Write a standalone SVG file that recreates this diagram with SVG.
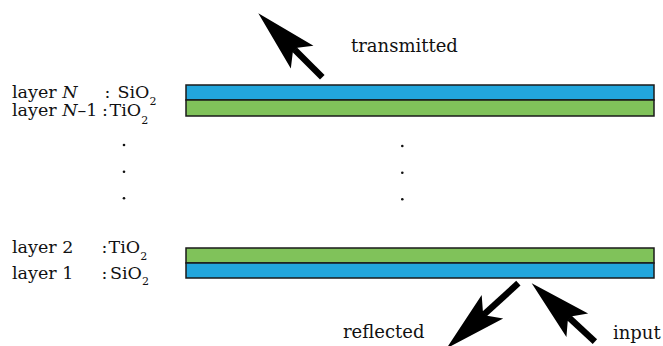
<svg xmlns="http://www.w3.org/2000/svg" width="663" height="346" viewBox="0 0 663 346">
  <style>
    text { font-family: "DejaVu Serif", "Liberation Serif", serif; font-size: 18px; fill: #111; }
    .lbl { font-size: 17.5px; }
    .sub { font-size: 11px; }
    .sio2 { fill: #22a6dc; stroke: #1a1a1a; stroke-width: 1.5; }
    .tio2 { fill: #80c25a; stroke: #1a1a1a; stroke-width: 1.5; }
    .arrow { fill: #000; }
    .dot { fill: #111; }
  </style>
  <defs>
    <!-- dart-shaped arrow pointing along +x, tip at the origin -->
    <path id="head" d="M0,0 L-62,-16 L-52,-3.2 L-52,3.2 L-62,16 Z"/>
  </defs>

  <rect width="663" height="346" fill="#fff"/>

  <!-- top of the stack -->
  <g id="layer-N">
    <rect class="sio2" x="186" y="85" width="468" height="15"/>
    <text class="lbl" x="12" y="98">layer <tspan font-style="italic">N</tspan></text>
    <text class="lbl" x="104.5" y="98">:</text>
    <text class="lbl" x="117.5" y="98">SiO<tspan class="sub" dy="6.5">2</tspan></text>
  </g>
  <g id="layer-N-1">
    <rect class="tio2" x="186" y="100" width="468" height="16"/>
    <text class="lbl" x="12" y="115.5">layer <tspan font-style="italic">N</tspan>–1</text>
    <text class="lbl" x="102" y="115.5">:</text>
    <text class="lbl" x="109.5" y="115.5">TiO<tspan class="sub" dy="8">2</tspan></text>
  </g>

  <!-- ellipsis for the intermediate layers -->
  <g id="ellipsis">
    <circle class="dot" cx="124" cy="145" r="1.3"/>
    <circle class="dot" cx="124" cy="171.7" r="1.3"/>
    <circle class="dot" cx="124" cy="198.3" r="1.3"/>
    <circle class="dot" cx="402.3" cy="146" r="1.3"/>
    <circle class="dot" cx="402.3" cy="172.7" r="1.3"/>
    <circle class="dot" cx="402.3" cy="199.3" r="1.3"/>
  </g>

  <!-- bottom of the stack -->
  <g id="layer-2">
    <rect class="tio2" x="186" y="248" width="468" height="15"/>
    <text class="lbl" x="12" y="252.5">layer 2</text>
    <text class="lbl" x="101.5" y="252.5">:</text>
    <text class="lbl" x="108.5" y="252.5">TiO<tspan class="sub" dy="7.5">2</tspan></text>
  </g>
  <g id="layer-1">
    <rect class="sio2" x="186" y="263" width="468" height="15"/>
    <text class="lbl" x="12" y="278.5">layer 1</text>
    <text class="lbl" x="101.5" y="278.5">:</text>
    <text class="lbl" x="110" y="278.5">SiO<tspan class="sub" dy="6.5">2</tspan></text>
  </g>

  <!-- beams -->
  <g id="connectors">
    <g id="transmitted" transform="translate(258.3,13.3) rotate(-135)">
      <use href="#head" class="arrow"/>
      <rect class="arrow" x="-90.5" y="-3.2" width="39" height="6.4"/>
    </g>
    <g id="input" transform="translate(531.7,283.3) rotate(-137.3)">
      <use href="#head" class="arrow"/>
      <rect class="arrow" x="-86" y="-3.2" width="34.5" height="6.4"/>
    </g>
    <g id="reflected" transform="translate(446.5,348.4) rotate(137.8)">
      <use href="#head" class="arrow"/>
      <rect class="arrow" x="-97" y="-3.2" width="45.5" height="6.4"/>
    </g>
  </g>

  <!-- beam labels -->
  <g id="labels">
    <text x="351" y="51.5">transmitted</text>
    <text x="343" y="337.5">reflected</text>
    <text x="613" y="338.5">input</text>
  </g>
</svg>
